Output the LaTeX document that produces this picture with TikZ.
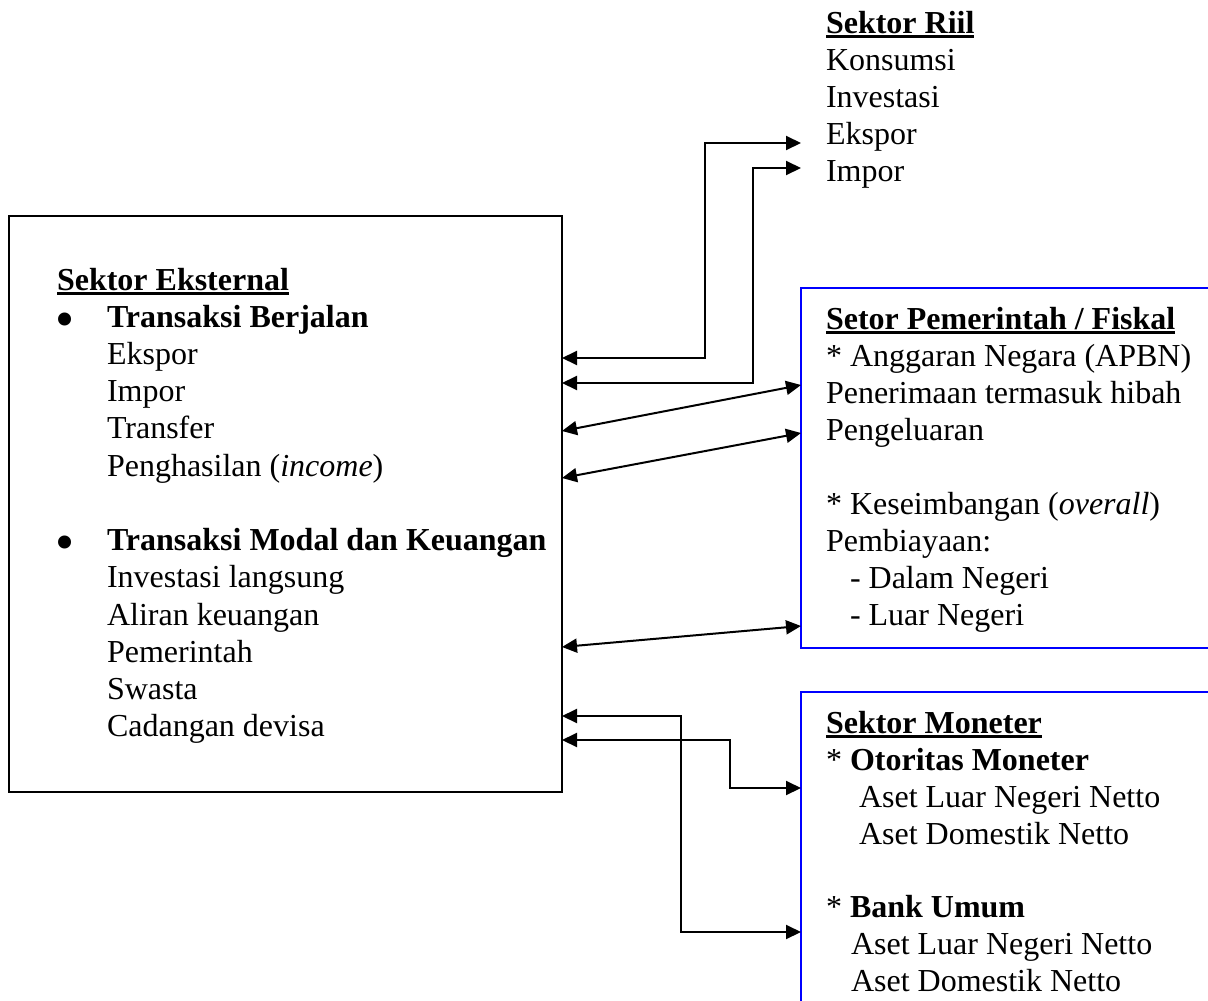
\documentclass[tikz,border=0pt]{standalone}
\usepackage{fontspec}
\setmainfont{Liberation Serif}
\usetikzlibrary{arrows.meta}
\newsavebox\myulbox
\newcommand\myul[1]{\sbox\myulbox{#1}\rlap{\vrule height -2pt depth 5pt width \wd\myulbox}\usebox\myulbox}
\newcommand\bigbul{\raisebox{-10pt}{\scalebox{1.7}{•}}}
\tikzset{
  txt/.style={anchor=base west, inner sep=0pt, outer sep=0pt, font=\fontsize{32}{37}\selectfont},
  sectorbox/.style={draw, line width=2pt, inner sep=0pt, outer sep=0pt, anchor=north west},
  bluebox/.style={sectorbox, draw=blue},
  link/.style={line width=2pt, {Triangle[length=15pt,width=14pt]}-{Triangle[length=15pt,width=14pt]}}
}
\begin{document}
\begin{tikzpicture}[x=1pt,y=-1pt]
\useasboundingbox (0,0) rectangle (1208,1001);
\clip (0,0) rectangle (1208,1001);
% boxes
\node[sectorbox, minimum width=553pt, minimum height=576pt] (ext) at (9,216) {};
\node[bluebox, minimum width=500pt, minimum height=360pt] (fis) at (801,288) {};
\node[bluebox, minimum width=500pt, minimum height=400pt] (mon) at (801,692) {};
% Sektor Riil
\node[txt] (riil) at (826,33) {\myul{\bfseries Sektor Riil}};
\node[txt] (r1) at (826,70) {Konsumsi};
\node[txt] (r2) at (826,107) {Investasi};
\node[txt] (r3) at (826,144) {Ekspor};
\node[txt] (r4) at (826,181) {Impor};
\coordinate (rEks) at (801,143);
\coordinate (rImp) at (801,168);
% Sektor Eksternal
\node[txt] (e0) at (57,290) {\myul{\bfseries Sektor Eksternal}};
\node[txt] (b1) at (55,327) {\bigbul};
\node[txt] (e1) at (107,327) {\bfseries Transaksi Berjalan};
\node[txt] (e2) at (107,364) {Ekspor};
\node[txt] (e3) at (107,401) {Impor};
\node[txt] (e4) at (107,438) {Transfer};
\node[txt] (e5) at (107,476) {Penghasilan (\textit{income})};
\node[txt] (b2) at (55,550) {\bigbul};
\node[txt] (e6) at (107,550) {\bfseries Transaksi Modal dan Keuangan};
\node[txt] (e7) at (107,587) {Investasi langsung};
\node[txt] (e8) at (107,625) {Aliran keuangan};
\node[txt] (e9) at (107,662) {Pemerintah};
\node[txt] (e10) at (107,699) {Swasta};
\node[txt] (e11) at (107,736) {Cadangan devisa};
% Fiskal
\node[txt] (f0) at (826,329) {\myul{\bfseries Setor Pemerintah / Fiskal}};
\node[txt] (f1) at (826,366) {* Anggaran Negara (APBN)};
\node[txt] (f2) at (826,403) {Penerimaan termasuk hibah};
\node[txt] (f3) at (826,440) {Pengeluaran};
\node[txt] (f4) at (826,514) {* Keseimbangan (\textit{overall})};
\node[txt] (f5) at (826,551) {Pembiayaan:};
\node[txt] (f6) at (850,588) {- Dalam Negeri};
\node[txt] (f7) at (850,625) {- Luar Negeri};
% Moneter
\node[txt] (m0) at (826,733) {\myul{\bfseries Sektor Moneter}};
\node[txt] (m1) at (826,770) {* \textbf{Otoritas Moneter}};
\node[txt] (m2) at (859,807) {Aset Luar Negeri Netto};
\node[txt] (m3) at (859,844) {Aset Domestik Netto};
\node[txt] (m4) at (826,917) {* \textbf{Bank Umum}};
\node[txt] (m5) at (851,954) {Aset Luar Negeri Netto};
\node[txt] (m6) at (851,991) {Aset Domestik Netto};
% connectors
\draw[link] (ext.east |- 0,358) -| (705,143) -- (rEks);
\draw[link] (ext.east |- 0,383) -| (753,168) -- (rImp);
\draw[link] (ext.east |- 0,431) -- (fis.west |- 0,385);
\draw[link] (ext.east |- 0,478) -- (fis.west |- 0,433);
\draw[link] (ext.east |- 0,647) -- (fis.west |- 0,626);
\draw[link] (ext.east |- 0,716) -| (681,932) -- (mon.west |- 0,932);
\draw[link] (ext.east |- 0,740) -| (730,788) -- (mon.west |- 0,788);
\end{tikzpicture}
\end{document}
